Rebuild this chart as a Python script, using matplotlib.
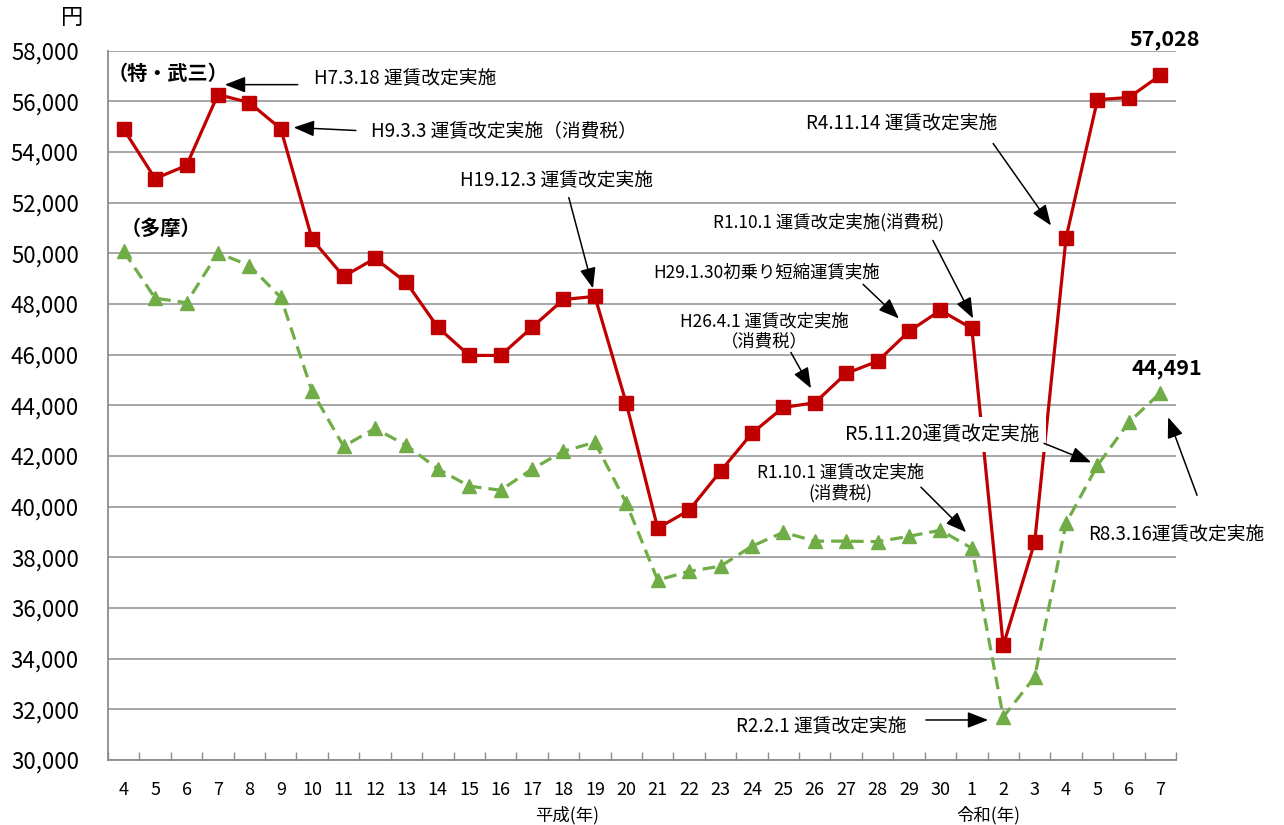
import matplotlib
matplotlib.use("Agg")
import matplotlib.pyplot as plt
from matplotlib.ticker import FuncFormatter, FixedLocator

plt.rcParams['font.family'] = ['Noto Sans CJK JP', 'DejaVu Sans']

# Fiscal years: Heisei 4-30, then Reiwa 1-7
years = [str(y) for y in range(4, 31)] + [str(y) for y in range(1, 8)]

# Commuter pass fare (yen): Toku / Busan line
fare_tokubu = [54900, 52950, 53470, 56270, 55950, 54920, 50550, 49090, 49800, 48850,
               47080, 45970, 45970, 47080, 48180, 48300, 44080, 39150, 39860, 41400,
               42900, 43920, 44100, 45260, 45740, 46920, 47750, 47040, 34520, 38590,
               50610, 56070, 56150, 57028]

# Commuter pass fare (yen): Tama line
fare_tama = [50080, 48230, 48050, 50020, 49520, 48260, 44550, 42380, 43090, 42420,
             41490, 40810, 40650, 41480, 42190, 42540, 40140, 37100, 37450, 37650,
             38440, 38990, 38640, 38640, 38620, 38830, 39070, 38360, 31700, 33270,
             39350, 41630, 43330, 44491]

yticks = list(range(30000, 58001, 2000))

RED = '#C00000'
GREEN = '#70AD47'
GRID = '#A6A6A6'

fig = plt.figure(figsize=(12.84, 8.25), dpi=100)
ax = fig.add_axes([108 / 1284, 1 - 760 / 825, (1176 - 108) / 1284, (760 - 50.7) / 825])

x = list(range(len(years)))

ax.plot(x, fare_tokubu, color=RED, lw=2.3, marker='s', ms=9.5,
        markerfacecolor=RED, markeredgecolor=RED, zorder=2)
ax.plot(x, fare_tama, color=GREEN, lw=2.3, ls=(0, (4, 2.2)), marker='^', ms=10,
        markerfacecolor=GREEN, markeredgecolor=GREEN, zorder=2)

ax.set_xlim(-0.5, len(years) - 0.5)
ax.set_ylim(30000, 58000)

ax.set_yticks(yticks)
ax.yaxis.set_major_formatter(FuncFormatter(lambda v, p: f"{int(v):,}"))
ax.tick_params(axis='y', length=0, labelsize=16, pad=21, labelcolor='#000000')
ax.yaxis.grid(True, color=GRID, lw=1.4)
ax.set_axisbelow(True)

ax.set_xticks(x)
ax.set_xticklabels(years)
ax.tick_params(axis='x', which='major', length=0, labelsize=13, pad=15)
ax.xaxis.set_minor_locator(FixedLocator([i - 0.5 for i in range(len(years) + 1)]))
ax.tick_params(axis='x', which='minor', direction='in', length=6, width=1, color='#8C8C8C')

for side in ('top', 'right'):
    ax.spines[side].set_visible(False)
for side in ('left', 'bottom'):
    ax.spines[side].set_color('#8C8C8C')
    ax.spines[side].set_linewidth(1.3)

# Series labels
ax.text(-0.52, 57100, '（特・武三）', fontsize=14.5, fontweight='bold', ha='left', va='center')
ax.text(-0.1, 50980, '（多摩）', fontsize=14.5, fontweight='bold', ha='left', va='center')

# Latest values
ax.text(33.15, 58450, f"{fare_tokubu[-1]:,}", fontsize=15.5, fontweight='bold',
        ha='center', va='center', clip_on=False)
ax.text(33.2, 45460, f"{fare_tama[-1]:,}", fontsize=15.5, fontweight='bold',
        ha='center', va='center')

arrow = dict(arrowstyle='-|>,head_length=0.9,head_width=0.35', color='black',
             lw=1.1, shrinkA=0, shrinkB=0, mutation_scale=14)


def note(text, txy, start, end, ha='center', fs=13.5, bbox=None):
    ax.text(txy[0], txy[1], text, fontsize=fs, ha=ha, va='center',
            linespacing=1.2, bbox=bbox, zorder=4)
    ax.annotate('', xy=end, xytext=start, arrowprops=arrow, zorder=4)


note('H7.3.18 運賃改定実施', (6.05, 56900), (5.54, 56660), (3.22, 56660), ha='left')
note('H9.3.3 運賃改定実施（消費税）', (7.87, 54850), (7.39, 54850), (5.41, 54970), ha='left')
note('H19.12.3 運賃改定実施', (13.79, 52875), (14.17, 52200), (14.94, 48615))
note('R4.11.14 運賃改定実施', (24.78, 55120), (27.68, 54335), (29.52, 51100))
note('R1.10.1 運賃改定実施(消費税)', (22.45, 51220), (25.76, 50510), (27.04, 47430), fs=12.5)
note('H29.1.30初乗り短縮運賃実施', (20.48, 49250), (23.54, 48775), (24.68, 47430), fs=12.5)
note('H26.4.1 運賃改定実施\n（消費税）', (20.38, 46920), (21.24, 46090), (21.88, 44670), fs=12.5)
note('R5.11.20運賃改定実施', (26.05, 42850), (29.3, 42500), (30.8, 41750), fs=14,
     bbox=dict(facecolor='white', edgecolor='none', pad=5))
note('R1.10.1 運賃改定実施\n(消費税)', (22.83, 40925), (25.38, 40770), (26.82, 38990), fs=12.5)
note('R8.3.16運賃改定実施', (33.5, 38875), (34.17, 40450), (33.25, 43530), fs=13.5)
note('R2.2.1 運賃改定実施', (22.2, 31300), (25.54, 31580), (27.52, 31580), fs=13.5)

for a in ax.texts:
    a.set_clip_on(False)

fig.text(72 / 1284, 1 - 18 / 825, '円', fontsize=16, ha='center', va='center')
fig.text(567 / 1284, 1 - 815 / 825, '平成(年)', fontsize=12.5, ha='center', va='center')
fig.text(988 / 1284, 1 - 815 / 825, '令和(年)', fontsize=12.5, ha='center', va='center')

fig.savefig('out.png', dpi=100, facecolor='white')
